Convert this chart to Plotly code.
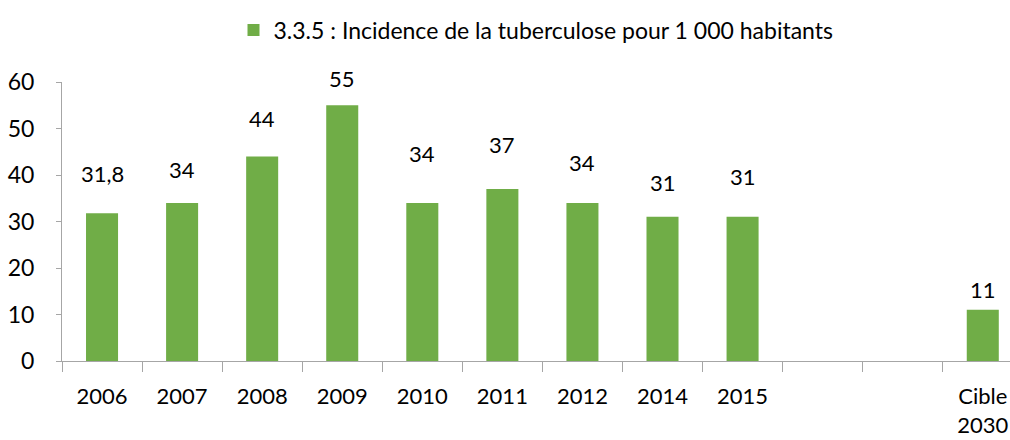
import plotly.graph_objects as go

categories = ["2006", "2007", "2008", "2009", "2010", "2011", "2012", "2014", "2015", " ", "  ", "Cible<br>2030"]
values = [31.8, 34, 44, 55, 34, 37, 34, 31, 31, None, None, 11]
value_labels = ["31,8", "34", "44", "55", "34", "37", "34", "31", "31", "", "", "11"]
series_name = "3.3.5 : Incidence de la tuberculose pour 1 000 habitants"
y_ticks = [0, 10, 20, 30, 40, 50, 60]

# label lift above the bar top, in pixels (styling of the manually placed labels)
label_lift_px = [40, 33, 38, 27, 49, 44, 40, 34, 40, 0, 0, 20]

GREEN = "#70AD47"
FONT = "Lato"
FS = 22

fig = go.Figure()
fig.add_trace(go.Bar(
    x=categories, y=values, name=series_name,
    marker=dict(color=GREEN, line=dict(width=0)),
    showlegend=True, hoverinfo="skip",
))

for i, (v, t, lift) in enumerate(zip(values, value_labels, label_lift_px)):
    if v is None:
        continue
    fig.add_annotation(x=i, y=v, xref="x", yref="y", text=t, showarrow=False,
                       yanchor="middle", yshift=lift,
                       font=dict(family=FONT, size=FS, color="#000"))

fig.update_layout(
    width=1010, height=440,
    margin=dict(l=62, r=0, t=82, b=79, autoexpand=False),
    paper_bgcolor="white", plot_bgcolor="white",
    bargap=0.6,
    font=dict(family=FONT, size=FS, color="#000"),
    legend=dict(orientation="h", x=0.5, xanchor="center", y=1.186, yanchor="middle",
                font=dict(family=FONT, size=23, color="#000"), itemsizing="constant"),
    xaxis=dict(type="category", range=[-0.5, 11.34], automargin=False,
               showline=True, linecolor="#A6A6A6",
               linewidth=1, ticks="outside", tickson="boundaries", ticklen=10,
               tickcolor="#A6A6A6", showgrid=False, zeroline=False,
               ticklabelstandoff=16,
               tickfont=dict(family=FONT, size=FS, color="#000")),
    yaxis=dict(range=[0, 60], tickvals=y_ticks, automargin=False,
               showline=True, linecolor="#A6A6A6",
               linewidth=1, ticks="outside", ticklen=5, tickcolor="#A6A6A6",
               showgrid=False, zeroline=False, ticklabelstandoff=17,
               tickfont=dict(family=FONT, size=23, color="#000")),
)

fig.write_html("out.html", post_script="document.body.style.margin='0';",
               config={"displayModeBar": False})
